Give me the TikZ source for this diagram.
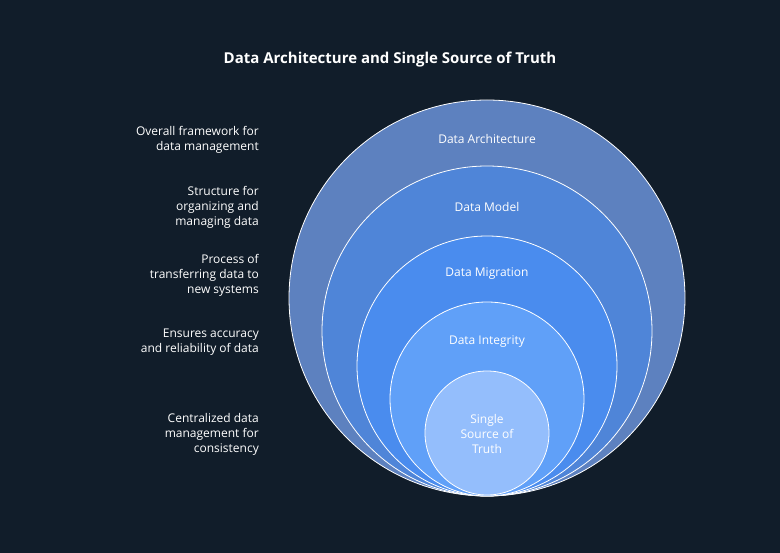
\documentclass[tikz,border=0pt]{standalone}
\usepackage{fontspec}
\setmainfont{Open Sans}
\begin{document}
\begin{tikzpicture}[x=1pt,y=-1pt,
  ring/.style={draw=white,line width=0.8pt},
  lbl/.style={text=white,font=\fontsize{12}{15}\selectfont,align=right,anchor=east,inner sep=0pt},
  clbl/.style={text=white,font=\fontsize{12}{15}\selectfont,align=center,inner sep=0pt}]
\fill[fill={rgb,255:red,17;green,29;blue,42}] (0,0) rectangle (780,553);
\useasboundingbox (0,0) rectangle (780,553);
\node[text=white,font=\bfseries\fontsize{15}{18}\selectfont] (title) at (390,60) {Data Architecture and Single Source of Truth};
\fill[ring,fill={rgb,255:red,93;green,129;blue,191}] (487,298) circle (198);
\fill[ring,fill={rgb,255:red,79;green,133;blue,216}] (487,331) circle (165);
\fill[ring,fill={rgb,255:red,74;green,140;blue,238}] (487,366) circle (130);
\fill[ring,fill={rgb,255:red,96;green,160;blue,248}] (487,399) circle (97);
\fill[ring,fill={rgb,255:red,148;green,190;blue,252}] (487,433) circle (62);
\node[clbl] (c1) at (487,139) {Data Architecture};
\node[clbl] (c2) at (487,207) {Data Model};
\node[clbl] (c3) at (487,274) {Data Migration};
\node[clbl] (c4) at (487,342) {Data Integrity};
\node[clbl] (c5) at (487,434) {Single\\Source of\\Truth};
\node[lbl] (l1) at (259,139.5) {Overall framework for\\data management};
\node[lbl] (l2) at (259,207) {Structure for\\organizing and\\managing data};
\node[lbl] (l3) at (259,275) {Process of\\transferring data to\\new systems};
\node[lbl] (l4) at (259,342.5) {Ensures accuracy\\and reliability of data};
\node[lbl] (l5) at (259,434) {Centralized data\\management for\\consistency};
\end{tikzpicture}
\end{document}
